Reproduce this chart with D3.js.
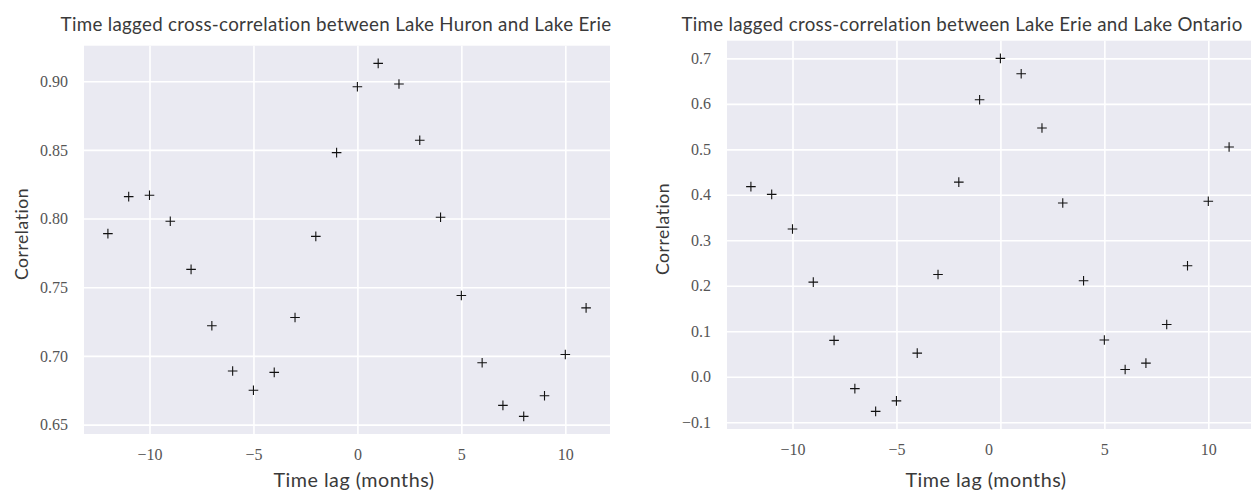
<!DOCTYPE html>
<html>
<head>
<meta charset="utf-8">
<script src="https://cdn.jsdelivr.net/npm/d3@7"></script>
<style>
  html, body { margin: 0; padding: 0; background: #ffffff; }
  svg { display: block; }
</style>
</head>
<body>
<svg id="chart" width="1251" height="491"></svg>
<script>
// ---------------- data ----------------
const lags = [-12,-11,-10,-9,-8,-7,-6,-5,-4,-3,-2,-1,0,1,2,3,4,5,6,7,8,9,10,11];
const huronErie = [0.789,0.816,0.817,0.798,0.763,0.722,0.689,0.675,0.688,0.728,0.787,0.848,
                   0.896,0.913,0.898,0.857,0.801,0.744,0.695,0.664,0.656,0.671,0.701,0.735];
const erieOntario = [0.418,0.401,0.325,0.208,0.080,-0.026,-0.076,-0.053,0.052,0.225,0.428,0.609,
                     0.700,0.666,0.547,0.382,0.211,0.081,0.016,0.030,0.115,0.244,0.386,0.505];
const xTicks = [-10,-5,0,5,10];
const yTicksLeft = [0.65,0.70,0.75,0.80,0.85,0.90];
const yTicksRight = [-0.1,0.0,0.1,0.2,0.3,0.4,0.5,0.6,0.7];
const titles = ["Time lagged cross-correlation between Lake Huron and Lake Erie",
                "Time lagged cross-correlation between Lake Erie and Lake Ontario"];
const xLabel = "Time lag (months)";
const yLabel = "Correlation";

// ---------------- layout ----------------
const panels = [
  { values: huronErie, yTicks: yTicksLeft, yFmt: d => d3.format(".2f")(d),
    box: { x0: 84, x1: 610, y0: 45.7, y1: 434 },
    title: titles[0], titleCx: 336, titleW: 554,
    xlabCx: 354, ylabX: 22, ylabCy: 234, zeroDx: 0 },
  { values: erieOntario, yTicks: yTicksRight, yFmt: d => d3.format(".1f")(d),
    box: { x0: 727, x1: 1253, y0: 40.7, y1: 429 },
    title: titles[1], titleCx: 962, titleW: 565,
    xlabCx: 986, ylabX: 663, ylabCy: 229, zeroDx: -12 }
];

const svg = d3.select("#chart");
const minus = s => s.replace("-", "\u2212");
const sans = "Lato, 'Open Sans', sans-serif";

function fitText(sel, target) {
  const len = sel.node().getComputedTextLength();
  const fs = parseFloat(sel.attr("font-size"));
  sel.attr("font-size", (fs * target / len).toFixed(2));
}

panels.forEach(p => {
  const b = p.box;
  const g = svg.append("g");

  const pad = (ext) => { const r = ext[1] - ext[0]; return [ext[0] - 0.05 * r, ext[1] + 0.05 * r]; };
  const x = d3.scaleLinear().domain(pad(d3.extent(lags))).range([b.x0, b.x1]);
  const y = d3.scaleLinear().domain(pad(d3.extent(p.values))).range([b.y1, b.y0]);

  // background
  g.append("rect").attr("x", b.x0).attr("y", b.y0)
    .attr("width", b.x1 - b.x0).attr("height", b.y1 - b.y0)
    .attr("fill", "#eaeaf2");

  // grid lines via axes
  const gx = g.append("g").attr("transform", `translate(0,${b.y1})`)
    .call(d3.axisBottom(x).tickValues(xTicks).tickSize(-(b.y1 - b.y0)).tickFormat(d => minus(String(d))).tickPadding(15));
  const gy = g.append("g").attr("transform", `translate(${b.x0},0)`)
    .call(d3.axisLeft(y).tickValues(p.yTicks).tickSize(-(b.x1 - b.x0)).tickFormat(d => minus(p.yFmt(d))).tickPadding(16));

  [gx, gy].forEach(ax => {
    ax.select(".domain").remove();
    ax.selectAll(".tick line").attr("stroke", "#ffffff").attr("stroke-width", 1.6);
    ax.selectAll(".tick text")
      .attr("font-family", "'Liberation Serif', 'Times New Roman', serif")
      .attr("font-size", 16).attr("fill", "#555555");
  });
  gx.selectAll(".tick text").attr("dy", "0.71em");
  gx.selectAll(".tick").filter(d => d === 0).select("text").attr("dx", p.zeroDx);

  // markers
  const half = 4.8;
  g.append("g").selectAll("path").data(lags).join("path")
    .attr("d", (d, i) => {
      const cx = x(d), cy = y(p.values[i]);
      return `M${cx - half},${cy}H${cx + half}M${cx},${cy - half}V${cy + half}`;
    })
    .attr("stroke", "#111111").attr("stroke-width", 1.1).attr("fill", "none");

  // title
  const t = g.append("text").attr("x", p.titleCx).attr("y", 31)
    .attr("text-anchor", "middle").attr("font-family", sans)
    .attr("letter-spacing", "0.3px")
    .attr("font-size", 16).attr("fill", "#3a3a3a").text(p.title);
  fitText(t, p.titleW);

  // x label
  const xl = g.append("text").attr("x", p.xlabCx).attr("y", 487)
    .attr("text-anchor", "middle").attr("font-family", sans)
    .attr("letter-spacing", "0.5px")
    .attr("font-size", 18).attr("fill", "#3a3a3a").text(xLabel);
  fitText(xl, 162);

  // y label
  const yl = g.append("text").attr("transform", `translate(${p.ylabX + 6},${p.ylabCy}) rotate(-90)`)
    .attr("text-anchor", "middle").attr("font-family", sans)
    .attr("letter-spacing", "0.5px")
    .attr("font-size", 18).attr("fill", "#3a3a3a").text(yLabel);
  fitText(yl, 92);
});
</script>
</body>
</html>
